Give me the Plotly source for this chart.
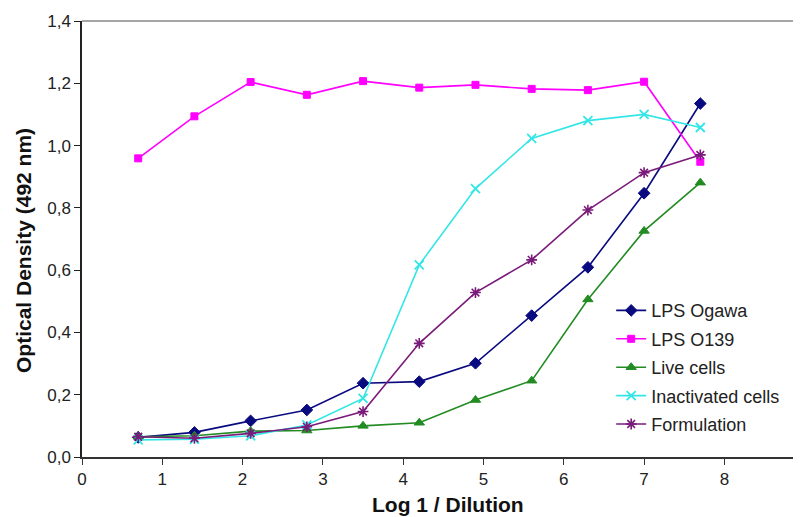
import plotly.graph_objects as go

x_vals = [0.7, 1.4, 2.1, 2.8, 3.5, 4.2, 4.9, 5.6, 6.3, 7.0, 7.7]
lps_ogawa = [0.063, 0.079, 0.116, 0.151, 0.237, 0.242, 0.301, 0.454, 0.609, 0.847, 1.135]
lps_o139 = [0.959, 1.094, 1.204, 1.163, 1.207, 1.186, 1.195, 1.182, 1.178, 1.205, 0.948]
live_cells = [0.065, 0.068, 0.083, 0.085, 0.100, 0.110, 0.183, 0.245, 0.506, 0.726, 0.881]
inactivated = [0.055, 0.057, 0.068, 0.103, 0.188, 0.617, 0.862, 1.023, 1.080, 1.100, 1.058]
formulation = [0.065, 0.060, 0.076, 0.097, 0.146, 0.365, 0.528, 0.633, 0.793, 0.913, 0.970]

x_ticks = list(range(0, 10))
y_ticks = [0, 0.2, 0.4, 0.6, 0.8, 1.0, 1.2, 1.4]

series = [
    ("LPS Ogawa", lps_ogawa, "#0a0a80", "diamond", 9, 1),
    ("LPS O139", lps_o139, "#ff00ff", "square", 7, 1),
    ("Live cells", live_cells, "#228b22", "triangle-up", 9, 1),
    ("Inactivated cells", inactivated, "#33e6e6", "x-thin-open", 9, 1.8),
    ("Formulation", formulation, "#7a1a7a", "asterisk-open", 9, 1.6),
]

fig = go.Figure()
for i, (name, ys, color, sym, sz, lw) in enumerate(series):
    fig.add_trace(go.Scatter(
        x=x_vals, y=ys, name=name, mode="lines+markers",
        legendgroup=f"g{i}",
        line=dict(color=color, width=1.6),
        marker=dict(symbol=sym, size=sz, color=color,
                    line=dict(color=color, width=lw)),
    ))

# page body has an 8px margin, so figure coords = screen coords - 8
OFF = 8
W, H = 801 - OFF, 517 - OFF
L, T = 82 - OFF, 21 - OFF
PB = 457 - OFF
B = H - PB
PW, PH = W - L, PB - T

font_family = "Liberation Sans, Arial, sans-serif"
fig.update_layout(
    width=W, height=H,
    margin=dict(l=L, r=0, t=T, b=B),
    paper_bgcolor="white", plot_bgcolor="white",
    separators=",.",
    font=dict(family=font_family, size=17, color="#222"),
    showlegend=True,
    legend=dict(x=0.736, y=0.378, xanchor="left", yanchor="top",
                font=dict(size=18, color="#222"), tracegroupgap=2,
                bgcolor="rgba(0,0,0,0)", itemwidth=30),
    xaxis=dict(range=[0, PW / 80.3], tickvals=x_ticks,
               showline=True, linecolor="#333", linewidth=1.5,
               ticks="outside", ticklen=6, tickcolor="#333",
               showgrid=False, zeroline=False, automargin=False,
               tickfont=dict(size=17, color="#222")),
    yaxis=dict(range=[0, 1.4], tickvals=y_ticks,
               tickformat=".1f",
               showline=True, linecolor="#222", linewidth=1.5,
               ticks="outside", ticklen=6, tickcolor="#222",
               showgrid=False, zeroline=False, automargin=False,
               tickfont=dict(size=17, color="#222")),
    shapes=[dict(type="line", xref="paper", yref="paper", x0=0, x1=1, y0=1, y1=1,
                 line=dict(color="#888", width=1.5))],
    annotations=[
        dict(text="<b>Log 1 / Dilution</b>", xref="paper", yref="paper",
             x=(448 - OFF - L) / PW, y=-(504 - OFF - (T + PH)) / PH,
             xanchor="center", yanchor="middle",
             showarrow=False, font=dict(size=21, color="#111")),
        dict(text="<b>Optical Density (492 nm)</b>", xref="paper", yref="paper",
             x=(24 - OFF - L) / PW, y=1 - (251 - OFF - T) / PH,
             xanchor="center", yanchor="middle",
             textangle=-90, showarrow=False, font=dict(size=21, color="#111")),
    ],
)

fig.write_html("out.html")
